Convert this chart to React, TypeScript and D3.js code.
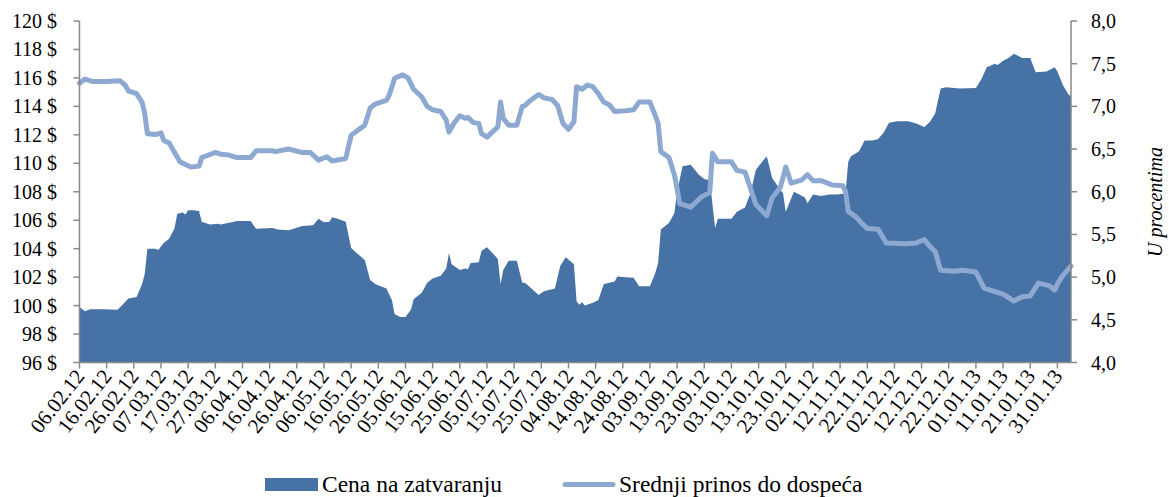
import React from 'react';
import * as d3 from 'd3';

const priceDates = [
  '2012-02-06','2012-02-08','2012-02-10','2012-02-15','2012-02-20','2012-02-22','2012-02-24','2012-02-27','2012-02-29',
  '2012-03-01','2012-03-02','2012-03-05','2012-03-06','2012-03-08','2012-03-10','2012-03-12','2012-03-13','2012-03-15',
  '2012-03-16','2012-03-17','2012-03-19','2012-03-21','2012-03-22','2012-03-25','2012-03-28','2012-03-29',
  '2012-04-02','2012-04-04','2012-04-09','2012-04-11','2012-04-17','2012-04-19','2012-04-23','2012-04-28',
  '2012-05-02','2012-05-04','2012-05-06','2012-05-08','2012-05-09','2012-05-11','2012-05-14','2012-05-16','2012-05-18',
  '2012-05-21','2012-05-23','2012-05-25','2012-05-29','2012-05-31',
  '2012-06-01','2012-06-03','2012-06-05','2012-06-07','2012-06-08','2012-06-11','2012-06-13','2012-06-15','2012-06-18',
  '2012-06-20','2012-06-21','2012-06-22','2012-06-25','2012-06-27','2012-06-28','2012-06-29',
  '2012-07-02','2012-07-03','2012-07-05','2012-07-07','2012-07-09','2012-07-10','2012-07-11','2012-07-13','2012-07-16',
  '2012-07-18','2012-07-19','2012-07-22','2012-07-24','2012-07-26','2012-07-30',
  '2012-08-01','2012-08-03','2012-08-06','2012-08-07','2012-08-08','2012-08-09','2012-08-10','2012-08-13','2012-08-15',
  '2012-08-17','2012-08-19','2012-08-21','2012-08-22','2012-08-25','2012-08-28','2012-08-30',
  '2012-09-03','2012-09-05','2012-09-06','2012-09-07','2012-09-10','2012-09-12','2012-09-13','2012-09-15','2012-09-18',
  '2012-09-21','2012-09-23','2012-09-25','2012-09-27','2012-09-28',
  '2012-10-03','2012-10-05','2012-10-08','2012-10-10','2012-10-12','2012-10-16','2012-10-18','2012-10-20','2012-10-22',
  '2012-10-23','2012-10-26','2012-10-28','2012-10-30','2012-10-31',
  '2012-11-02','2012-11-05','2012-11-08','2012-11-11','2012-11-14','2012-11-15','2012-11-16','2012-11-19','2012-11-21',
  '2012-11-24','2012-11-26','2012-11-28','2012-11-30',
  '2012-12-03','2012-12-07','2012-12-10','2012-12-13','2012-12-15','2012-12-17','2012-12-19','2012-12-21','2012-12-26',
  '2013-01-01','2013-01-03','2013-01-05','2013-01-08','2013-01-09','2013-01-11','2013-01-13','2013-01-15','2013-01-18',
  '2013-01-21','2013-01-23','2013-01-27','2013-01-30','2013-01-31','2013-02-02','2013-02-04','2013-02-05'
];
const priceValues = [
  99.9, 99.6, 99.75, 99.75, 99.7, 100.1, 100.5, 100.6, 101.5,
  102.2, 104.0, 104.0, 103.9, 104.4, 104.7, 105.45, 106.45, 106.55,
  106.4, 106.7, 106.7, 106.65, 105.9, 105.7, 105.75, 105.7,
  105.85, 105.95, 105.95, 105.4, 105.45, 105.35, 105.3, 105.6,
  105.65, 106.1, 105.85, 105.9, 106.2, 106.1, 105.9, 104.05, 103.7,
  103.2, 101.8, 101.5, 101.2, 100.4,
  99.4, 99.2, 99.2, 99.7, 100.45, 100.9, 101.6, 101.9, 102.1,
  102.6, 103.7, 102.9, 102.5, 102.6, 102.55, 103.0,
  103.05, 103.85, 104.1, 103.7, 103.27, 101.5, 102.5, 103.15, 103.15,
  101.6, 101.6, 101.1, 100.75, 101.0, 101.2,
  102.8, 103.4, 102.9, 100.3, 100.05, 100.25, 100.0, 100.2, 100.4,
  101.5, 101.6, 101.7, 102.05, 102.0, 101.95, 101.35,
  101.35, 102.3, 103.0, 105.35, 105.8, 106.5, 108.0, 109.8, 109.9,
  109.2, 108.9, 108.8, 105.45, 106.1,
  106.1, 106.6, 106.9, 107.9, 109.55, 110.5, 108.97, 108.4, 107.9,
  106.6, 108.0, 107.8, 107.6, 107.2,
  107.8, 107.7, 107.8, 107.8, 107.9, 110.1, 110.5, 110.85, 111.6,
  111.6, 111.7, 112.15, 112.85,
  112.95, 112.95, 112.8, 112.55, 112.9, 113.5, 115.25, 115.35, 115.25,
  115.3, 115.9, 116.75, 117.0, 116.9, 117.2, 117.4, 117.7, 117.4,
  117.4, 116.4, 116.45, 116.75, 116.45, 115.5, 114.85, 114.7
];

const yieldDates = [
  '2012-02-06','2012-02-08','2012-02-11','2012-02-16','2012-02-21','2012-02-23','2012-02-24','2012-02-27','2012-02-29',
  '2012-03-01','2012-03-02','2012-03-05','2012-03-07','2012-03-08','2012-03-10','2012-03-12','2012-03-14','2012-03-16',
  '2012-03-18','2012-03-21','2012-03-22','2012-03-27','2012-03-29',
  '2012-04-01','2012-04-04','2012-04-09','2012-04-11','2012-04-17','2012-04-18','2012-04-23','2012-04-28',
  '2012-05-01','2012-05-04','2012-05-07','2012-05-09','2012-05-14','2012-05-16','2012-05-18','2012-05-21','2012-05-23',
  '2012-05-25','2012-05-29','2012-05-30',
  '2012-06-01','2012-06-04','2012-06-06','2012-06-08','2012-06-11','2012-06-13','2012-06-15','2012-06-18','2012-06-20',
  '2012-06-21','2012-06-23','2012-06-25','2012-06-27','2012-06-28','2012-06-30',
  '2012-07-02','2012-07-03','2012-07-05','2012-07-09','2012-07-10','2012-07-11','2012-07-13','2012-07-16','2012-07-18',
  '2012-07-19','2012-07-21','2012-07-24','2012-07-26','2012-07-29','2012-07-31',
  '2012-08-02','2012-08-04','2012-08-06','2012-08-07','2012-08-09','2012-08-11','2012-08-13','2012-08-15','2012-08-17',
  '2012-08-19','2012-08-21','2012-08-25','2012-08-28','2012-08-30',
  '2012-09-03','2012-09-05','2012-09-06','2012-09-07','2012-09-10','2012-09-12','2012-09-14','2012-09-18','2012-09-20',
  '2012-09-22','2012-09-25','2012-09-26','2012-09-28',
  '2012-10-03','2012-10-05','2012-10-08','2012-10-10','2012-10-12','2012-10-16','2012-10-18','2012-10-21','2012-10-23',
  '2012-10-25','2012-10-29','2012-10-31',
  '2012-11-02','2012-11-05','2012-11-09','2012-11-13','2012-11-14','2012-11-15','2012-11-18','2012-11-20','2012-11-22',
  '2012-11-26','2012-11-29',
  '2012-12-06','2012-12-10','2012-12-13','2012-12-15','2012-12-17','2012-12-19','2012-12-24','2012-12-27',
  '2013-01-01','2013-01-04','2013-01-08','2013-01-11','2013-01-15','2013-01-18','2013-01-21','2013-01-24','2013-01-28',
  '2013-01-30','2013-01-31','2013-02-02','2013-02-05'
];
const yieldValues = [
  7.27, 7.32, 7.29, 7.29, 7.30, 7.24, 7.18, 7.15, 7.05,
  6.92, 6.68, 6.67, 6.69, 6.6, 6.57, 6.46, 6.35, 6.32,
  6.29, 6.3, 6.4, 6.46, 6.44,
  6.43, 6.4, 6.4, 6.48, 6.48, 6.47, 6.5, 6.46,
  6.46, 6.37, 6.41, 6.36, 6.39, 6.66, 6.71, 6.78, 6.98,
  7.03, 7.07, 7.13,
  7.33, 7.37, 7.33, 7.2, 7.11, 7.0, 6.96, 6.94, 6.84,
  6.7, 6.81, 6.89, 6.86, 6.87, 6.81,
  6.8, 6.68, 6.64, 6.76, 7.05, 6.86, 6.78, 6.78, 7.0,
  7.01, 7.07, 7.14, 7.10, 7.08, 7.01,
  6.8, 6.73, 6.82, 7.23, 7.2, 7.25, 7.23, 7.15, 7.05,
  7.02, 6.94, 6.95, 6.96, 7.05,
  7.05, 6.89, 6.8, 6.47, 6.4, 6.2, 5.86, 5.82, 5.88,
  5.94, 5.99, 6.45, 6.35,
  6.35, 6.25, 6.23, 6.04, 5.85, 5.72, 5.93, 6.05, 6.29,
  6.1, 6.14, 6.2,
  6.13, 6.13, 6.08, 6.07, 6.0, 5.77, 5.7, 5.63, 5.57,
  5.56, 5.4,
  5.39, 5.4, 5.44, 5.36, 5.3, 5.08, 5.07, 5.08,
  5.06, 4.87, 4.83, 4.8, 4.72, 4.77, 4.78, 4.93, 4.9,
  4.85, 4.92, 5.02, 5.13
];

const dateTickLabels = [
  '06.02.12','16.02.12','26.02.12','07.03.12','17.03.12','27.03.12','06.04.12','16.04.12','26.04.12',
  '06.05.12','16.05.12','26.05.12','05.06.12','15.06.12','25.06.12','05.07.12','15.07.12','25.07.12',
  '04.08.12','14.08.12','24.08.12','03.09.12','13.09.12','23.09.12','03.10.12','13.10.12','23.10.12',
  '02.11.12','12.11.12','22.11.12','02.12.12','12.12.12','22.12.12','01.01.13','11.01.13','21.01.13','31.01.13'
];
const priceTicks = [96, 98, 100, 102, 104, 106, 108, 110, 112, 114, 116, 118, 120];
const yieldTicks = [4.0, 4.5, 5.0, 5.5, 6.0, 6.5, 7.0, 7.5, 8.0];
const xDomain = ['2012-02-06', '2013-02-05'];

const seriesNames = ['Cena na zatvaranju', 'Srednji prinos do dospeća'];
const rightAxisTitle = 'U procentima';

const W = 1169;
const H = 497;
const M = { left: 79.5, right: 1071, top: 21, bottom: 362.5 };
const AREA_COLOR = '#4672A6';
const LINE_COLOR = '#8EA9D1';
const AXIS_COLOR = '#888888';
const FONT = "'Liberation Serif', 'Times New Roman', 'DejaVu Serif', serif";

export default function App() {
  const parseIso = d3.timeParse('%Y-%m-%d');
  const parseTick = d3.timeParse('%d.%m.%y');

  const x = d3.scaleTime()
    .domain(xDomain.map((s) => parseIso(s) as Date))
    .range([M.left, M.right]);
  const yL = d3.scaleLinear().domain([96, 120]).range([M.bottom, M.top]);
  const yR = d3.scaleLinear().domain([4, 8]).range([M.bottom, M.top]);

  const priceData = priceDates.map((d, i) => ({ date: parseIso(d) as Date, v: priceValues[i] }));
  const yieldData = yieldDates.map((d, i) => ({ date: parseIso(d) as Date, v: yieldValues[i] }));

  const areaGen = d3.area<{ date: Date; v: number }>()
    .x((d) => x(d.date))
    .y0(yL(96))
    .y1((d) => yL(d.v));
  const lineGen = d3.line<{ date: Date; v: number }>()
    .x((d) => x(d.date))
    .y((d) => yR(d.v));

  const fmtR = (v: number) => v.toFixed(1).replace('.', ',');

  return (
    <svg width={W} height={H} style={{ position: 'absolute', left: 0, top: 0, background: '#fff', fontFamily: FONT }}>
      <path d={areaGen(priceData) || ''} fill={AREA_COLOR} />
      <path d={lineGen(yieldData) || ''} fill="none" stroke={LINE_COLOR} strokeWidth={5}
        strokeLinejoin="round" strokeLinecap="round" />

      {/* left axis */}
      <line x1={M.left} x2={M.left} y1={M.top} y2={M.bottom} stroke={AXIS_COLOR} strokeWidth={1.5} />
      {priceTicks.map((t) => (
        <g key={'pl' + t}>
          <line x1={M.left - 6} x2={M.left} y1={yL(t)} y2={yL(t)} stroke={AXIS_COLOR} strokeWidth={1.5} />
          <text x={57} y={yL(t)} dy="0.35em" textAnchor="end" fontSize={20} fill="#000">{`${t} $`}</text>
        </g>
      ))}

      {/* right axis */}
      <line x1={M.right} x2={M.right} y1={M.top} y2={M.bottom} stroke={AXIS_COLOR} strokeWidth={1.5} />
      {yieldTicks.map((t) => (
        <g key={'yr' + t}>
          <line x1={M.right} x2={M.right + 6} y1={yR(t)} y2={yR(t)} stroke={AXIS_COLOR} strokeWidth={1.5} />
          <text x={1091} y={yR(t)} dy="0.35em" textAnchor="start" fontSize={20} fill="#000">{fmtR(t)}</text>
        </g>
      ))}
      <text transform={`translate(1162, 202) rotate(-90)`} textAnchor="middle" fontSize={20}
        fontStyle="italic" fill="#000">{rightAxisTitle}</text>

      {/* bottom axis */}
      <line x1={M.left} x2={M.right} y1={M.bottom} y2={M.bottom} stroke={AXIS_COLOR} strokeWidth={1.5} />
      {dateTickLabels.map((lbl) => {
        const tx = x(parseTick(lbl) as Date);
        return (
          <g key={lbl}>
            <line x1={tx} x2={tx} y1={M.bottom} y2={M.bottom + 6} stroke={AXIS_COLOR} strokeWidth={1.5} />
            <text transform={`translate(${tx + 6}, ${M.bottom + 14}) rotate(-52)`} textAnchor="end"
              fontSize={21} fill="#000">{lbl}</text>
          </g>
        );
      })}

      {/* legend */}
      <rect x={265} y={478} width={53} height={13} fill={AREA_COLOR} />
      <text x={322} y={492} fontSize={23.5} fill="#000">{seriesNames[0]}</text>
      <line x1={565} x2={613} y1={484.5} y2={484.5} stroke={LINE_COLOR} strokeWidth={5} strokeLinecap="round" />
      <text x={619} y={492} fontSize={23.5} fill="#000">{seriesNames[1]}</text>
    </svg>
  );
}
